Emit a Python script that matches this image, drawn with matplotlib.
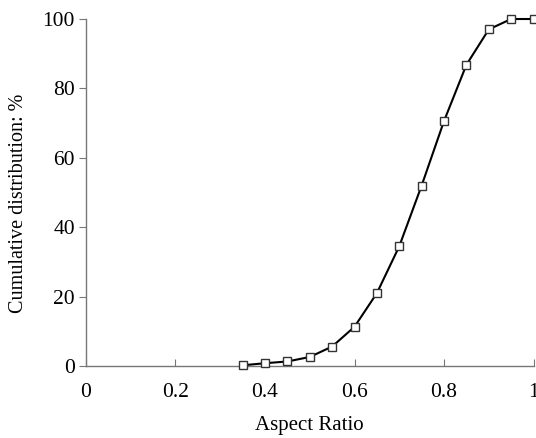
import matplotlib
matplotlib.use("Agg")
import matplotlib.pyplot as plt

# aspect ratio bins and cumulative distribution (%)
aspect_ratio = [0.35, 0.40, 0.45, 0.50, 0.55, 0.60, 0.65, 0.70, 0.75, 0.80, 0.85, 0.90, 0.95, 1.00]
cumulative = [0.2, 0.8, 1.3, 2.6, 5.6, 11.3, 21.0, 34.5, 52.0, 70.6, 86.8, 97.0, 100.0, 100.0]

x_ticks = [0, 0.2, 0.4, 0.6, 0.8, 1]
x_tick_labels = ["0", "0.2", "0.4", "0.6", "0.8", "1"]
y_ticks = [0, 20, 40, 60, 80, 100]

plt.rcParams['font.family'] = ['Liberation Serif', 'DejaVu Serif']
plt.rcParams['font.size'] = 15.5

fig = plt.figure(figsize=(5.36, 4.38), dpi=100)
ax = fig.add_axes([0.1604, 0.1644, 0.8350, 0.7922])

ax.plot(aspect_ratio, cumulative, color='black', lw=1.5,
        marker='s', ms=6, mfc='white', mec='#333333', mew=1.0, clip_on=False, zorder=3)

ax.set_xlim(0, 1)
ax.set_ylim(0, 100)
ax.set_xticks(x_ticks)
ax.set_xticklabels(x_tick_labels)
ax.set_yticks(y_ticks)

for s in ['top', 'right']:
    ax.spines[s].set_visible(False)
for s in ['left', 'bottom']:
    ax.spines[s].set_color('#777777')
    ax.spines[s].set_linewidth(1.0)

ax.tick_params(axis='y', direction='out', length=5, color='#777777', pad=3)
ax.tick_params(axis='x', direction='in', length=5, color='#777777', pad=12)

ax.set_xlabel("Aspect Ratio", fontsize=15)
ax.set_ylabel("Cumulative distribution: %", fontsize=14.5)
ax.xaxis.set_label_coords(0.5, -0.145)
ax.yaxis.set_label_coords(-0.13, 0.47)

fig.savefig("out.png", dpi=100)
